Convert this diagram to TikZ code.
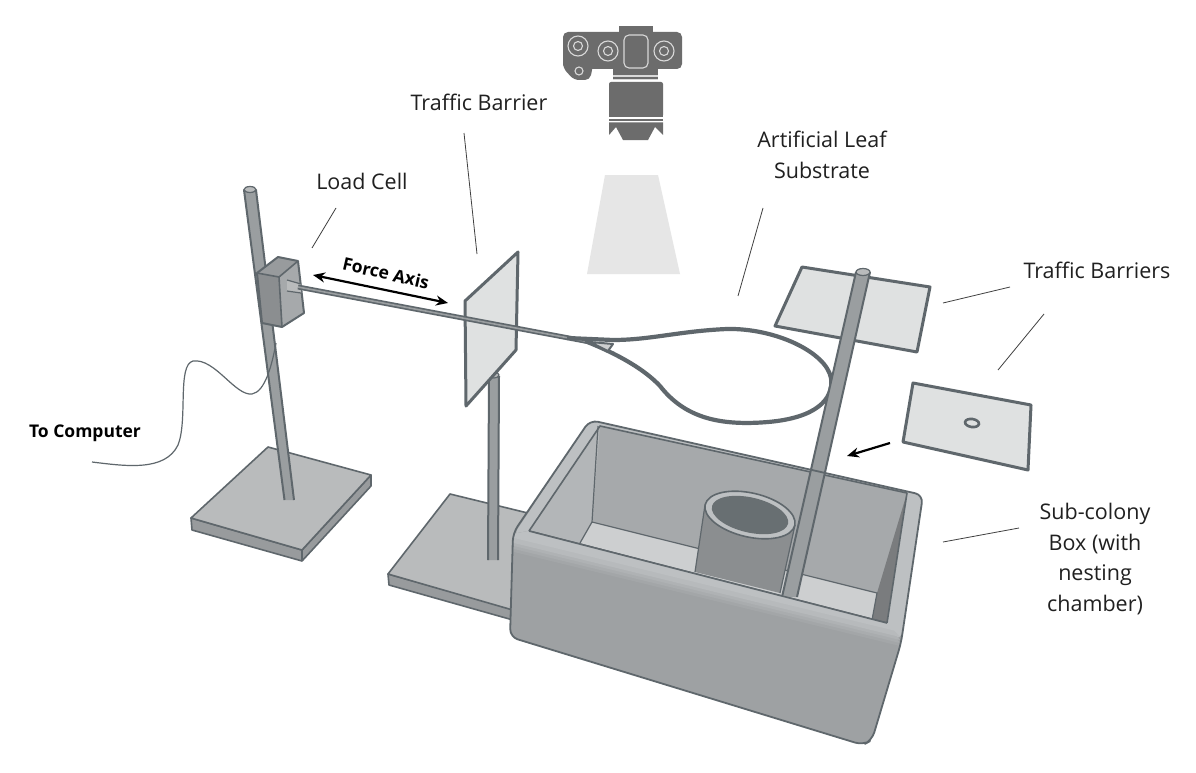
\documentclass[tikz,border=0pt]{standalone}
\usepackage{fontspec}
\setmainfont{Open Sans}
\usetikzlibrary{arrows.meta}
\definecolor{edgeg}{HTML}{5F676C}
\definecolor{plate}{HTML}{B9BBBC}
\definecolor{plateside}{HTML}{989B9D}
\definecolor{rodg}{HTML}{9A9EA0}
\definecolor{glassg}{HTML}{DFE1E1}
\definecolor{camg}{HTML}{6C6C6C}
\definecolor{coneg}{HTML}{E6E6E6}
\definecolor{boxg}{HTML}{9EA1A3}
\definecolor{boxtop}{HTML}{BDC0C2}
\definecolor{inner}{HTML}{A6A9AB}
\definecolor{innerfl}{HTML}{CDCFD0}
\definecolor{holeg}{HTML}{686F72}
\definecolor{txt}{HTML}{202020}
\tikzset{
 x=1pt,y=-1pt,
 glass/.style={fill=glassg,draw=edgeg,line width=3pt,line join=round},
 leader/.style={draw=black!75,line width=0.8pt},
 lbl/.style={font=\fontsize{21.5}{30.5}\selectfont,text=txt,align=center,inner sep=0pt},
 boldlbl/.style={font=\bfseries\fontsize{17.5}{20}\selectfont,text=black,inner sep=0pt},
 blackarrow/.style={draw=black,line width=2.2pt,-{Stealth[length=12pt,width=10pt]}},
 camline/.style={draw=white!85!black,line width=1.1pt},
 rodedge/.style={draw=edgeg,line width=2pt},
 plateedge/.style={draw=edgeg,line width=1.6pt,line join=round},
}
\begin{document}
\begin{tikzpicture}
\useasboundingbox (0,0) rectangle (1196,773);
\fill[white] (0,0) rectangle (1196,773);
% camera
\fill[camg,rounded corners=5pt] (563,32) -- (682,32) -- (682,69) -- (563,69) -- cycle;
\fill[camg,rounded corners=5pt] (563,50) -- (563,68) -- (574,80) -- (590,80) -- (594,60) -- cycle;
\fill[camg] (619,26) rectangle (653,36);
\fill[camg] (613,65) rectangle (658,80);
\fill[camg,rounded corners=2pt] (609,82) rectangle (663,117);
\fill[camg] (609,114) rectangle (663,117.5);
\fill[camg] (609,119) rectangle (663,121);
\fill[camg] (609,122.5) -- (663,122.5) -- (663,135) -- (655,127) -- (648,140) -- (623,140) -- (616,127) -- (609,135) -- cycle;
\draw[camline] (613,76) -- (658,76) (613,79.5) -- (658,79.5);
\draw[camline,rounded corners=5pt] (624,35) rectangle (648,68);
\draw[camline] (578,46) circle[radius=10];
\draw[camline] (578,46) circle[radius=4.5];
\draw[camline] (608,51) circle[radius=10];
\draw[camline] (608,51) circle[radius=4.5];
\draw[camline] (664,51) circle[radius=10];
\draw[camline] (664,51) circle[radius=4.5];
\draw[camline] (579,71) circle[radius=4];
% light cone
\fill[coneg] (605,175) -- (658,175) -- (680,274) -- (587,274) -- cycle;
% base 1
\filldraw[fill=plateside,plateedge] (191,518) -- (302,550) -- (371,475) -- (371,486) -- (302,561) -- (192,530) -- cycle;
\filldraw[fill=plate,plateedge] (191,518) -- (268,447) -- (371,475) -- (302,550) -- cycle;
\draw[plateedge] (302,550) -- (302,561);
% post 1
\fill[rodg] (244,190) -- (256,190) -- (294,500) -- (284.5,500) -- cycle;
\draw[rodedge] (244,190) -- (284.5,500) (256,190) -- (294,500);
\fill[plate] (250,189.5) ellipse[x radius=6,y radius=3];
\draw[edgeg,line width=1.2pt] (250,189.5) ellipse[x radius=6,y radius=3];
% base 2
\filldraw[fill=plateside,plateedge] (388,574) -- (520,611) -- (520,622) -- (389,585) -- cycle;
\filldraw[fill=plate,plateedge] (388,574) -- (450,494) -- (540,516) -- (530,615) -- cycle;
% post 2
\fill[rodg] (489,376) -- (499,376) -- (498,560) -- (488,560) -- cycle;
\draw[rodedge] (489,376) -- (488,560) (499,376) -- (498,560);
\fill[plate] (494,375) ellipse[x radius=5,y radius=3];
\draw[edgeg,line width=1.2pt] (494,375) ellipse[x radius=5,y radius=3];
% wire
\draw[edgeg,line width=1.2pt] (92,462) .. controls (125,466) and (165,472) .. (178,445) .. controls (188,420) and (177,365) .. (193,361) .. controls (215,358) and (235,396) .. (252,394) .. controls (265,392) and (272,365) .. (276,343);
% load cell
\fill[plateside] (257,273) -- (278,257) -- (298,261) -- (279,277) -- cycle;
\fill[rodg!90!black] (257,273) -- (279,277) -- (282,327) -- (262,323) -- cycle;
\fill[inner] (279,277) -- (298,261) -- (304,313) -- (282,327) -- cycle;
\draw[edgeg,line width=2pt,line join=round] (257,273) -- (278,257) -- (298,261) -- (304,313) -- (282,327) -- (262,323) -- cycle;
\draw[edgeg,line width=1.6pt] (257,273) -- (279,277) -- (298,261) (279,277) -- (282,327);
% force rod
\fill[plate] (287,280) -- (301,284) -- (301,293) -- (287,291) -- cycle;
\draw[edgeg,line width=1.2pt] (287,280) -- (301,284) (287,291) -- (301,293);
% traffic barrier plane
\filldraw[glass] (465,301) -- (518,252) -- (516,350) -- (466,406) -- cycle;
\draw[edgeg,line width=5pt] (298,287) -- (590,342);
\draw[rodg,line width=1.6pt] (298,287) -- (590,342);
% leaf loop
\draw[edgeg,line width=4.2pt,line join=round] (567,338) -- (613,340) .. controls (650,340) and (680,331) .. (727,329) .. controls (775,328) and (826,352) .. (831,378) .. controls (834,400) and (815,418) .. (768,422) .. controls (720,426) and (685,418) .. (660,386) .. controls (645,370) and (620,355) .. (585,341);
\fill[innerfl] (590,342) -- (613,344) -- (608,351) -- cycle;
\draw[edgeg,line width=2pt,line join=round] (590,342) -- (613,344) -- (608,351) -- cycle;
% flat barrier
\filldraw[glass] (802,267) -- (930,287) -- (917,352) -- (775,326) -- cycle;
% box body
\fill[boxg,rounded corners=8pt] (590,420) -- (513,533) -- (510,637) -- (863,745) -- (872,740) -- (901,643) -- (923,495) -- cycle;
\fill[boxtop,rounded corners=8pt] (513,536) -- (590,420) -- (923,495) -- (901,640) -- cycle;
\fill[inner] (600,426) -- (907,493) -- (887,623) -- (529,531) -- cycle;
\fill[inner!85!white] (600,426) -- (592,522) -- (580,543) -- (529,531) -- cycle;
\fill[innerfl] (592,522) -- (877,593) -- (872,620) -- (580,543) -- cycle;
\fill[plateside!80!black] (907,493) -- (877,593) -- (872,620) -- (887,623) -- cycle;
\draw[edgeg,line width=1.6pt,line join=round] (600,426) -- (529,531) -- (887,623) -- (907,493) -- cycle;
\draw[edgeg,line width=1.2pt] (598,426) -- (592,522) -- (580,543) (592,522) -- (877,593) -- (872,620);
% nesting cylinder
\fill[rodg!90!black] (705,505) -- (695,572) -- (780,593) -- (795,525) -- cycle;
\draw[edgeg,line width=1.2pt] (705,505) -- (695,572) (795,525) -- (780,593);
\fill[boxtop] (750,515) ellipse[x radius=46,y radius=22,rotate=-13];
\draw[edgeg,line width=1.6pt] (750,515) ellipse[x radius=46,y radius=22,rotate=-13];
\fill[holeg] (750,515) ellipse[x radius=39,y radius=17.5,rotate=-13];
% upright post
\fill[rodg] (856,272) -- (870,272) -- (797,597) -- (782,597) -- cycle;
\draw[rodedge] (856,272) -- (782,597) (870,272) -- (797,597);
\fill[plate] (863,272) ellipse[x radius=7,y radius=3.5];
\draw[edgeg,line width=1.2pt] (863,272) ellipse[x radius=7,y radius=3.5];
% front face
\foreach \p/\d in {15/14,35/11,55/8,80/5}{
 \fill[boxtop!\p!boxg] (513,534) -- (529,531) -- (887,623) -- (900,632+\d) -- (514,538+\d) -- cycle;
}
\fill[boxtop] (513,534) -- (529,531) -- (887,623) -- (900,632) -- (514,538) -- cycle;
\draw[edgeg,line width=1.8pt,rounded corners=8pt,line join=round] (590,420) -- (513,533) -- (510,637) -- (863,745) -- (872,740) -- (901,643) -- (923,495) -- cycle;
\draw[edgeg,line width=1.6pt] (529,531) -- (887,623);
% glass with hole
\filldraw[glass] (913,383) -- (1031,405) -- (1028,470) -- (903,442) -- cycle;
\draw[edgeg,line width=2.6pt,fill=glassg] (972,423) ellipse[x radius=7,y radius=4,rotate=-8];
% leaders
\draw[leader] (464,133) -- (477,254);
\draw[leader] (336,208) -- (312,248);
\draw[leader] (763,208) -- (738,296);
\draw[leader] (1010,287) -- (943,303);
\draw[leader] (1044,314) -- (998,370);
\draw[leader] (1019,528) -- (943,542);
% arrows
\draw[blackarrow] (890,443) -- (847,456);
\draw[draw=black,line width=2.2pt,{Stealth[length=12pt,width=10pt]}-{Stealth[length=12pt,width=10pt]}] (313,275) -- (448,303);
% labels
\node[lbl] (n1) at (479,102) {Traffic Barrier};
\node[lbl] (n2) at (362,181) {Load Cell};
\node[lbl] (n3) at (822,155) {Artificial Leaf\\Substrate};
\node[lbl] (n4) at (1097,270) {Traffic Barriers};
\node[lbl] (n5) at (1095,559) {Sub-colony\\Box (with\\nesting\\chamber)};
\node[boldlbl] (n6) at (85,433) {To Computer};
\node[boldlbl,rotate=-13] (n7) at (386,273) {Force Axis};
\end{tikzpicture}
\end{document}
